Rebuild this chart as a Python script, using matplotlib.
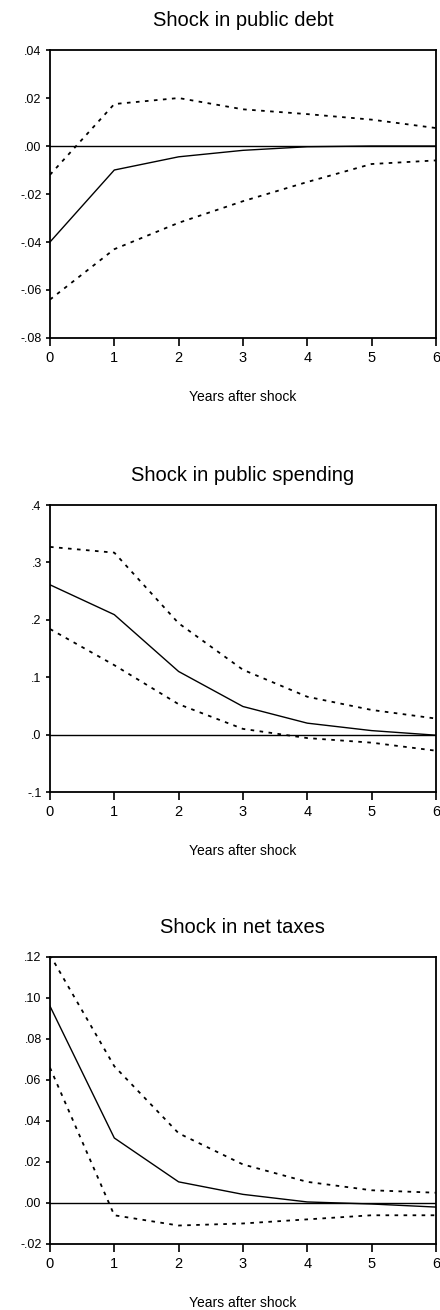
import matplotlib
import matplotlib.pyplot as plt

matplotlib.use('Agg')
plt.rcParams['font.family'] = ['Liberation Sans', 'DejaVu Sans']

years = [0, 1, 2, 3, 4, 5, 6]

# Shock in public debt
debt_mid = [-0.040, -0.010, -0.0045, -0.0018, -0.0003, 0.0, 0.0]
debt_upper = [-0.012, 0.0175, 0.020, 0.0153, 0.0133, 0.011, 0.0075]
debt_lower = [-0.064, -0.043, -0.032, -0.023, -0.015, -0.0075, -0.006]

# Shock in public spending
spend_mid = [0.261, 0.209, 0.110, 0.049, 0.020, 0.007, -0.001]
spend_upper = [0.327, 0.317, 0.194, 0.113, 0.066, 0.043, 0.028]
spend_lower = [0.184, 0.121, 0.053, 0.010, -0.006, -0.014, -0.028]

# Shock in net taxes
tax_mid = [0.096, 0.0317, 0.0103, 0.0042, 0.0005, -0.0005, -0.002]
tax_upper = [0.121, 0.0667, 0.034, 0.0188, 0.0103, 0.0062, 0.005]
tax_lower = [0.066, -0.006, -0.011, -0.010, -0.008, -0.006, -0.006]

titles = ["Shock in public debt", "Shock in public spending", "Shock in net taxes"]
y_ticks = [
    [-0.08, -0.06, -0.04, -0.02, 0.00, 0.02, 0.04],
    [-0.1, 0.0, 0.1, 0.2, 0.3, 0.4],
    [-0.02, 0.00, 0.02, 0.04, 0.06, 0.08, 0.10, 0.12],
]
y_labels = [
    ["-.08", "-.06", "-.04", "-.02", ".00", ".02", ".04"],
    ["-.1", ".0", ".1", ".2", ".3", ".4"],
    ["-.02", ".00", ".02", ".04", ".06", ".08", ".10", ".12"],
]
panels = [
    (debt_mid, debt_upper, debt_lower),
    (spend_mid, spend_upper, spend_lower),
    (tax_mid, tax_upper, tax_lower),
]

# axes rectangles in figure fraction (left, bottom, width, height)
rects = [
    [0.1136, 0.742, 0.877, 0.2198],
    [0.1136, 0.3954, 0.877, 0.2191],
    [0.1136, 0.0504, 0.877, 0.2191],
]

fig = plt.figure(figsize=(4.4, 13.1), dpi=100)

for i in range(3):
    ax = fig.add_axes(rects[i])
    mid, upper, lower = panels[i]
    ax.axhline(0, color='black', lw=1.0)
    ax.plot(years, mid, color='black', lw=1.0)
    ax.plot(years, upper, color='black', lw=1.3, linestyle=(0, (2, 3)))
    ax.plot(years, lower, color='black', lw=1.3, linestyle=(0, (2, 3)))

    ax.set_xlim(0, 6)
    ax.set_ylim(y_ticks[i][0], y_ticks[i][-1])
    ax.set_xticks(years)
    ax.set_yticks(y_ticks[i])
    ax.set_yticklabels(y_labels[i])
    ax.tick_params(axis='x', direction='out', length=5.5, width=1.2, pad=4, labelsize=10.5)
    ax.tick_params(axis='y', direction='out', length=3, width=1.2, pad=3, labelsize=9)
    for s in ax.spines.values():
        s.set_linewidth(1.3)
    ax.set_title(titles[i], fontsize=14.5, pad=17)
    ax.set_xlabel("Years after shock", fontsize=10, labelpad=18)

fig.savefig("out.png", dpi=100)
